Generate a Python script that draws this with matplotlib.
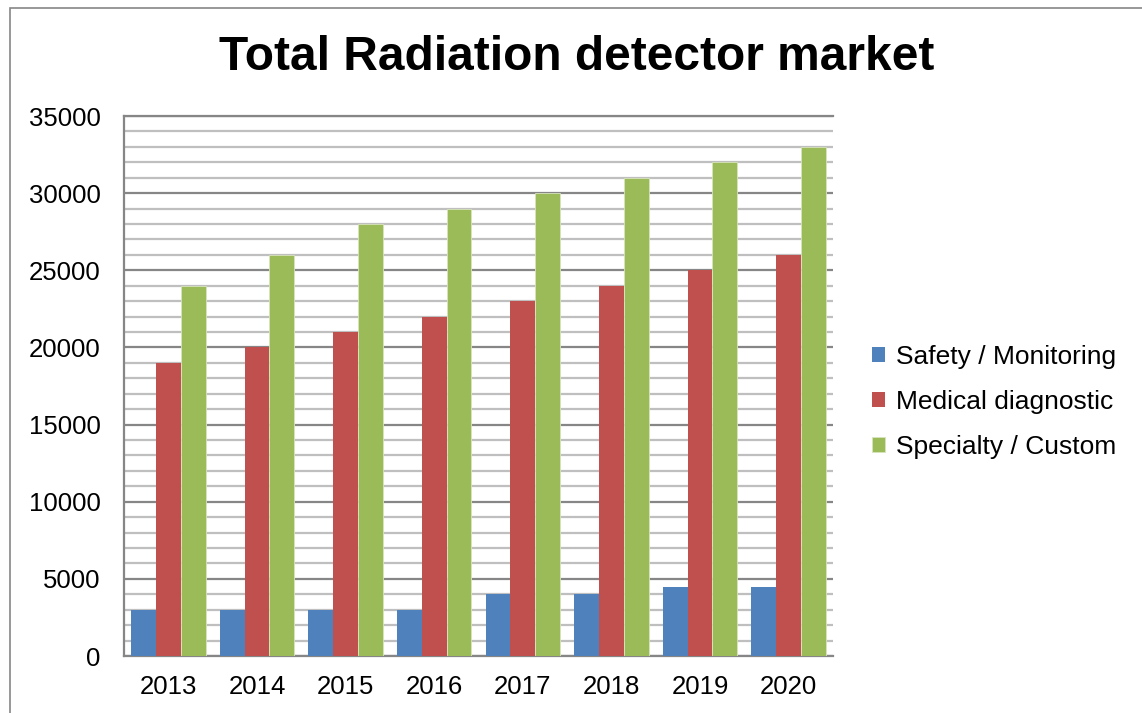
import matplotlib.pyplot as plt
import numpy as np
from matplotlib.patches import Rectangle
from matplotlib.ticker import MultipleLocator

plt.rcParams['font.family'] = ['Liberation Sans', 'DejaVu Sans']

years = ['2013', '2014', '2015', '2016', '2017', '2018', '2019', '2020']
safety = [3000, 3000, 3000, 3000, 4000, 4000, 4500, 4500]
medical = [19000, 20000, 21000, 22000, 23000, 24000, 25000, 26000]
specialty = [24000, 26000, 28000, 29000, 30000, 31000, 32000, 33000]

fig = plt.figure(figsize=(11.42, 7.13), dpi=100)
# outer chart frame (right and bottom edges fall outside the image)
fig.patches.append(Rectangle((10/1142, -0.05), 1.2, (713-8)/713 + 0.05, transform=fig.transFigure,
                             fill=False, edgecolor='#868686', lw=1.2))

ax = fig.add_axes([124/1142, 57/713, (833-124)/1142, (656-116)/713])

x = np.arange(len(years))
w = 0.28
ax.bar(x - w, safety, w, color='#4F81BD', label='Safety / Monitoring', zorder=3)
ax.bar(x, medical, w, color='#C0504D', label='Medical diagnostic', zorder=3)
ax.bar(x + w, specialty, w, color='#9BBB59', label='Specialty / Custom', zorder=3,
       edgecolor='#d8e4bc', lw=0.6)

ax.set_xlim(-0.5, len(years) - 0.5)
ax.set_ylim(0, 35000)
ax.yaxis.set_major_locator(MultipleLocator(5000))
ax.yaxis.set_minor_locator(MultipleLocator(1000))
ax.grid(axis='y', which='minor', color='#BFBFBF', lw=1.6, zorder=0)
ax.grid(axis='y', which='major', color='#868686', lw=1.6, zorder=1)
ax.set_xticks(x)
ax.set_xticklabels(years)
ax.tick_params(axis='both', which='both', length=0, labelsize=18.5)
ax.tick_params(axis='y', pad=17)
ax.tick_params(axis='x', pad=14)

for s in ['left', 'bottom', 'top']:
    ax.spines[s].set_color('#868686')
    ax.spines[s].set_linewidth(1.6)
ax.spines['right'].set_visible(False)

fig.text(577/1142, 1 - 58/713, 'Total Radiation detector market', fontsize=34.5,
         fontweight='bold', ha='center', va='center')

ax.legend(loc='center left', bbox_to_anchor=(1.04, 0.47), frameon=False, fontsize=19,
          handlelength=0.5, handleheight=0.5, handletextpad=0.4, labelspacing=0.8,
          borderaxespad=0)

plt.savefig('out.png', dpi=100)
